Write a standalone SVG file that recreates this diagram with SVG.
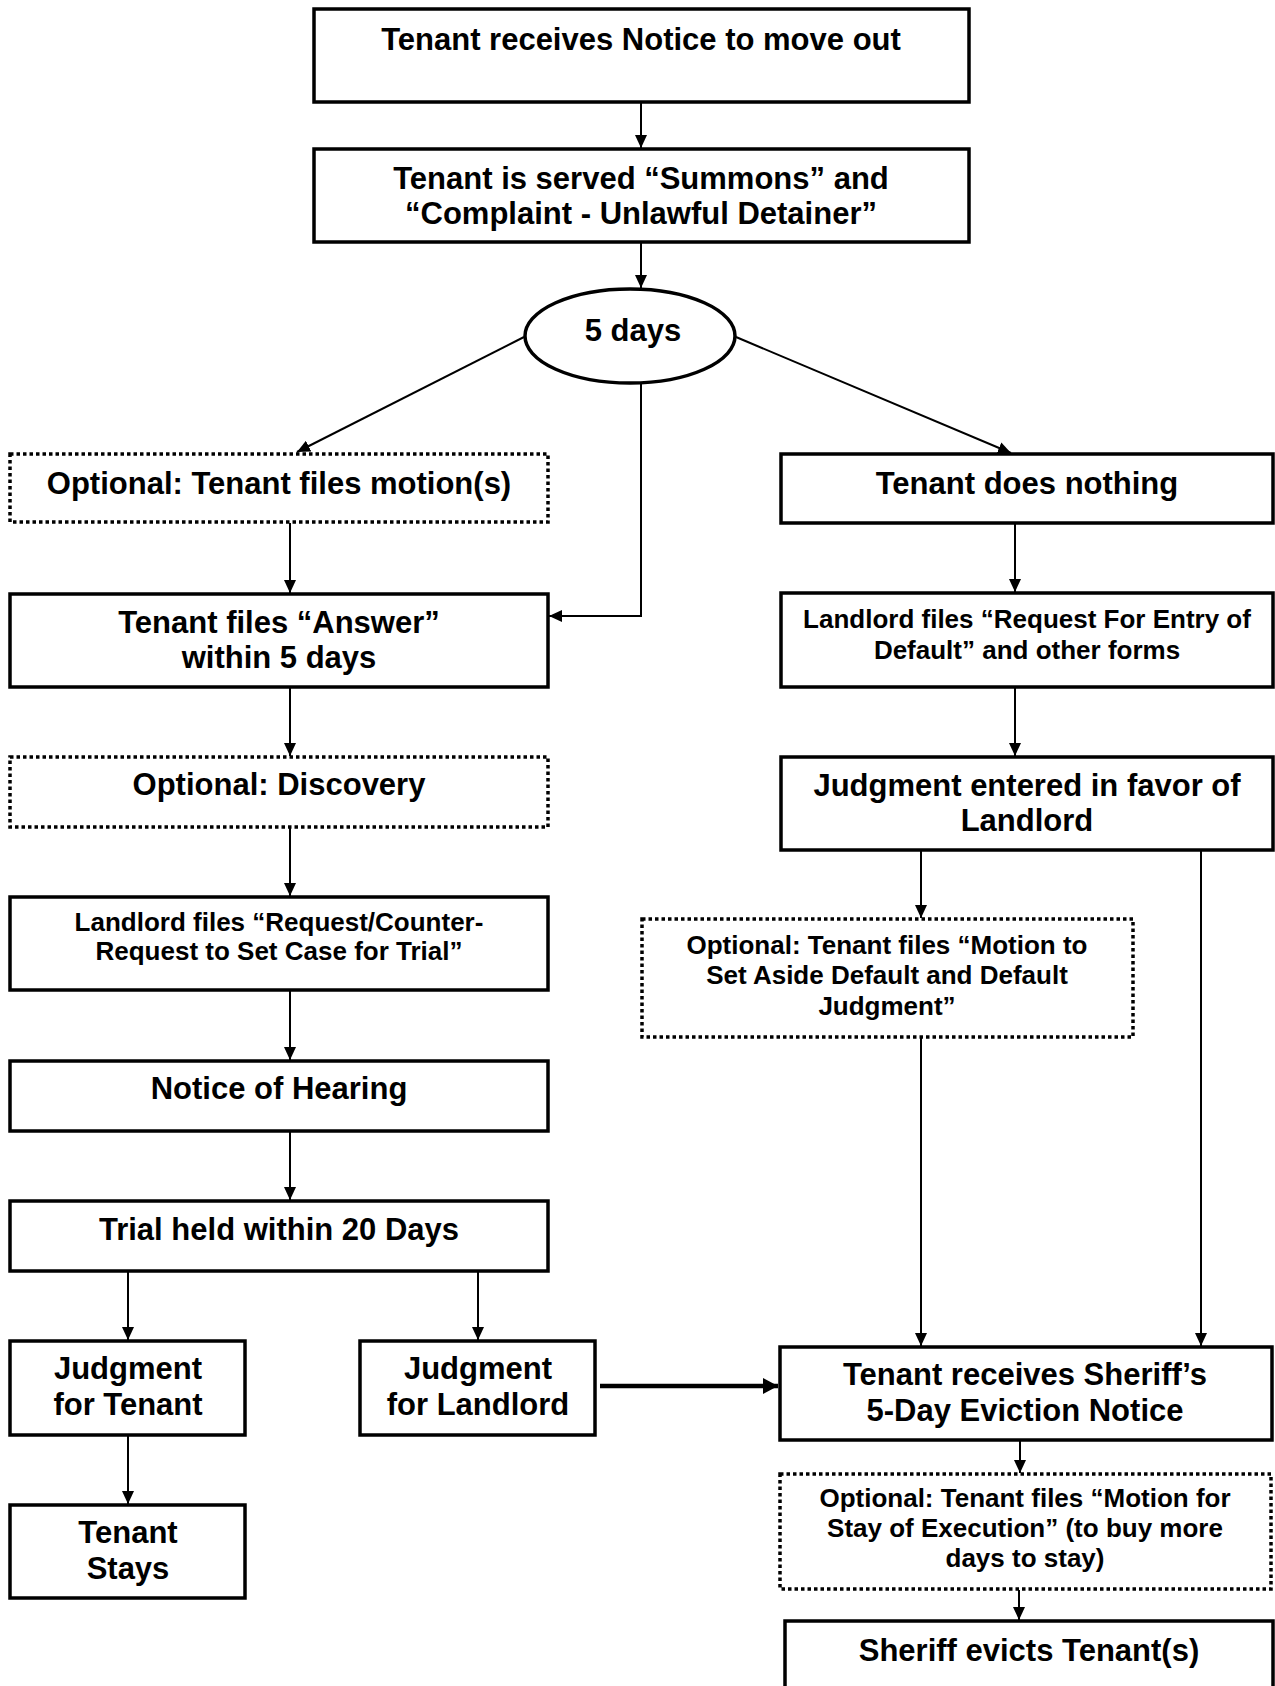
<svg xmlns="http://www.w3.org/2000/svg" width="1275" height="1686" viewBox="0 0 1275 1686">
<style>
.box{fill:#fff;stroke:#000;stroke-width:3.5}
.dot{fill:#fff;stroke:#000;stroke-width:3.5;stroke-dasharray:3.5 3}
.t{font-family:"Liberation Sans",Arial,sans-serif;font-weight:bold;font-size:31px;text-anchor:middle;fill:#000}
.s{font-family:"Liberation Sans",Arial,sans-serif;font-weight:bold;font-size:26px;text-anchor:middle;fill:#000}
.c{fill:none;stroke:#000;stroke-width:2;marker-end:url(#ah)}
.ck{fill:none;stroke:#000;stroke-width:4.5;marker-end:url(#ahb)}
</style>
<defs>
<marker id="ah" markerUnits="userSpaceOnUse" markerWidth="14" markerHeight="12" refX="13" refY="6" orient="auto"><path d="M0,0 L13,6 L0,12 Z" fill="#000"/></marker>
<marker id="ahb" markerUnits="userSpaceOnUse" markerWidth="16" markerHeight="16" refX="15" refY="8" orient="auto"><path d="M0,0 L15,8 L0,16 Z" fill="#000"/></marker>
</defs>
<rect width="1275" height="1686" fill="#fff"/>
<g id="connectors">
<path class="c" d="M641,102 V148"/>
<path class="c" d="M641,243 V288"/>
<path class="c" d="M524,337 L297,452"/>
<path class="c" d="M736,337 L1011,453"/>
<path class="c" d="M641,384 V616 H549"/>
<path class="c" d="M290,523 V593"/>
<path class="c" d="M290,688 V756"/>
<path class="c" d="M290,828 V896"/>
<path class="c" d="M290,991 V1060"/>
<path class="c" d="M290,1132 V1200"/>
<path class="c" d="M128,1272 V1340"/>
<path class="c" d="M478,1272 V1340"/>
<path class="c" d="M128,1436 V1504"/>
<path class="ck" d="M600,1386 H778"/>
<path class="c" d="M1015,524 V592"/>
<path class="c" d="M1015,688 V756"/>
<path class="c" d="M921,851 V918"/>
<path class="c" d="M921,1038 V1346"/>
<path class="c" d="M1201,851 V1346"/>
<path class="c" d="M1020,1441 V1473"/>
<path class="c" d="M1019,1590 V1620"/>
</g>
<g id="n1"><rect class="box" x="314" y="9" width="655" height="93"/><text class="t" x="641" y="50">Tenant receives Notice to move out</text></g>
<g id="n2"><rect class="box" x="314" y="149" width="655" height="93"/><text class="t" x="641" y="189">Tenant is served “Summons” and</text><text class="t" x="641" y="224">“Complaint - Unlawful Detainer”</text></g>
<g id="n3"><ellipse cx="630" cy="336" rx="105" ry="47" fill="#fff" stroke="#000" stroke-width="3.5"/><text class="t" x="633" y="341">5 days</text></g>
<g id="n4"><rect class="dot" x="10" y="454" width="538" height="68"/><text class="t" x="279" y="494">Optional: Tenant files motion(s)</text></g>
<g id="n5"><rect class="box" x="10" y="594" width="538" height="93"/><text class="t" x="279" y="633">Tenant files “Answer”</text><text class="t" x="279" y="668">within 5 days</text></g>
<g id="n6"><rect class="dot" x="10" y="757" width="538" height="70"/><text class="t" x="279" y="795">Optional: Discovery</text></g>
<g id="n7"><rect class="box" x="10" y="897" width="538" height="93"/><text class="s" x="279" y="931">Landlord files “Request/Counter-</text><text class="s" x="279" y="960">Request to Set Case for Trial”</text></g>
<g id="n8"><rect class="box" x="10" y="1061" width="538" height="70"/><text class="t" x="279" y="1099">Notice of Hearing</text></g>
<g id="n9"><rect class="box" x="10" y="1201" width="538" height="70"/><text class="t" x="279" y="1240">Trial held within 20 Days</text></g>
<g id="n10"><rect class="box" x="10" y="1341" width="235" height="94"/><text class="t" x="128" y="1379">Judgment</text><text class="t" x="128" y="1415">for Tenant</text></g>
<g id="n11"><rect class="box" x="360" y="1341" width="235" height="94"/><text class="t" x="478" y="1379">Judgment</text><text class="t" x="478" y="1415">for Landlord</text></g>
<g id="n12"><rect class="box" x="10" y="1505" width="235" height="93"/><text class="t" x="128" y="1543">Tenant</text><text class="t" x="128" y="1579">Stays</text></g>
<g id="n13"><rect class="box" x="781" y="454" width="492" height="69"/><text class="t" x="1027" y="494">Tenant does nothing</text></g>
<g id="n14"><rect class="box" x="781" y="593" width="492" height="94"/><text class="s" x="1027" y="628">Landlord files “Request For Entry of</text><text class="s" x="1027" y="659">Default” and other forms</text></g>
<g id="n15"><rect class="box" x="781" y="757" width="492" height="93"/><text class="t" x="1027" y="796">Judgment entered in favor of</text><text class="t" x="1027" y="831">Landlord</text></g>
<g id="n16"><rect class="dot" x="642" y="919" width="491" height="118"/><text class="s" x="887" y="954">Optional: Tenant files “Motion to</text><text class="s" x="887" y="984">Set Aside Default and Default</text><text class="s" x="887" y="1015">Judgment”</text></g>
<g id="n17"><rect class="box" x="780" y="1347" width="492" height="93"/><text class="t" x="1025" y="1385">Tenant receives Sheriff’s</text><text class="t" x="1025" y="1421">5-Day Eviction Notice</text></g>
<g id="n18"><rect class="dot" x="780" y="1474" width="491" height="115"/><text class="s" x="1025" y="1507">Optional: Tenant files “Motion for</text><text class="s" x="1025" y="1537">Stay of Execution” (to buy more</text><text class="s" x="1025" y="1567">days to stay)</text></g>
<g id="n19"><rect class="box" x="785" y="1621" width="488" height="80"/><text class="t" x="1029" y="1661">Sheriff evicts Tenant(s)</text></g>
</svg>
